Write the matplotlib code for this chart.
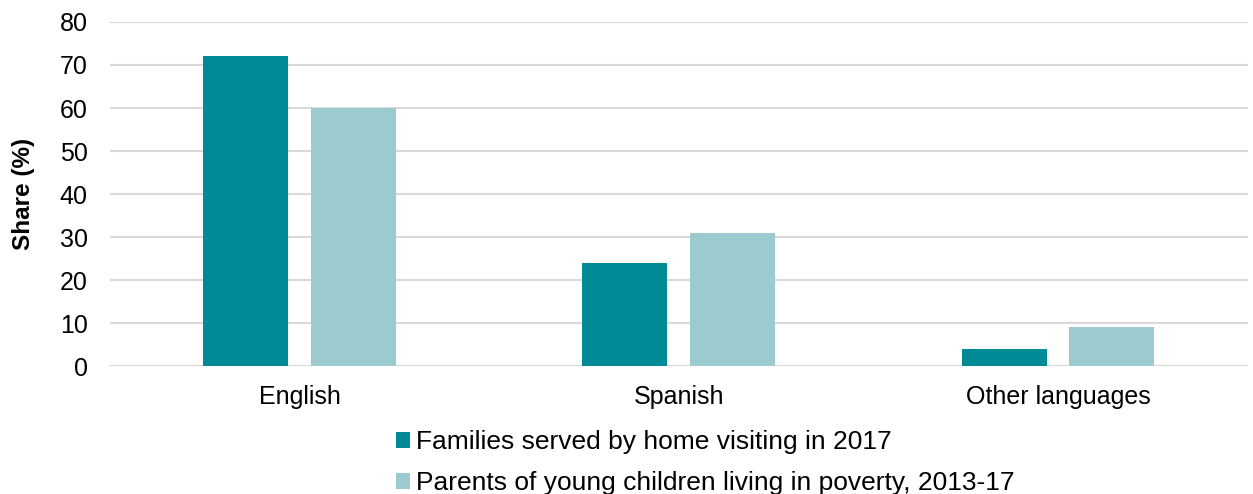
import matplotlib.pyplot as plt
import numpy as np

plt.rcParams['font.family'] = ['Liberation Sans', 'DejaVu Sans']

categories = ['English', 'Spanish', 'Other languages']
families_home_visiting = [72, 24, 4]
parents_in_poverty = [60, 31, 9]
series_labels = ['Families served by home visiting in 2017',
                 'Parents of young children living in poverty, 2013-17']

dark = '#008A95'
light = '#9BCBCE'

fig = plt.figure(figsize=(12.53, 4.94), dpi=100)
ax = fig.add_axes([0.0878, 0.259, 0.9082, 0.6965])

x = np.arange(len(categories))
w = 0.224
b1 = ax.bar(x - 0.143, families_home_visiting, w, color=dark, zorder=3)
b2 = ax.bar(x + 0.141, parents_in_poverty, w, color=light, zorder=3)

ax.set_xlim(-0.5, 2.5)
ax.set_ylim(0, 80)
ax.set_yticks(range(0, 81, 10))
ax.set_xticks(x)
ax.set_xticklabels(categories)
ax.tick_params(axis='both', length=0, labelsize=18, colors='#000000')
ax.tick_params(axis='x', pad=14)
ax.tick_params(axis='y', pad=16)

for y in range(0, 81, 10):
    ax.axhline(y, color='#D9D9D9', linewidth=1.5, zorder=1)
for s in ax.spines.values():
    s.set_visible(False)

ax.set_ylabel('Share (%)', fontsize=17.5, fontweight='bold', labelpad=18)

fig.legend([b1, b2], series_labels, loc='upper left', bbox_to_anchor=(0.316, 0.129),
           ncol=1, frameon=False, fontsize=19, handlelength=0.55, handleheight=0.55,
           handletextpad=0.2, labelspacing=0.64, borderpad=0, borderaxespad=0)

fig.savefig('out.png', dpi=100)
